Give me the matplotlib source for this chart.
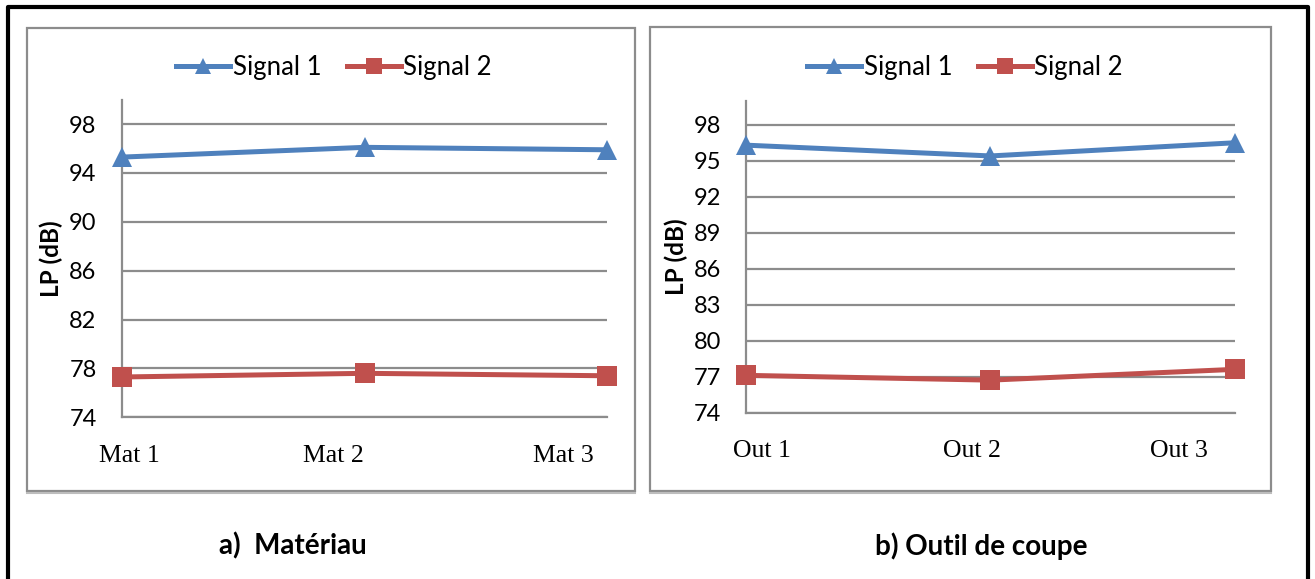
import matplotlib
matplotlib.use("Agg")
import matplotlib.pyplot as plt
from matplotlib.patches import Rectangle
from matplotlib.lines import Line2D
from matplotlib.transforms import ScaledTranslation

# data
mat_labels = ["Mat 1", "Mat 2", "Mat 3"]
mat_signal1 = [95.3, 96.1, 95.9]
mat_signal2 = [77.3, 77.6, 77.4]

out_labels = ["Out 1", "Out 2", "Out 3"]
out_signal1 = [96.3, 95.4, 96.5]
out_signal2 = [77.1, 76.7, 77.6]

mat_yticks = [74, 78, 82, 86, 90, 94, 98]
out_yticks = [74, 77, 80, 83, 86, 89, 92, 95, 98]

BLUE = "#4F81BD"
RED = "#C0504D"
GRID = "#8C8C8C"
W, H = 1315, 579

plt.rcParams["font.family"] = ["Lato", "DejaVu Sans"]

fig = plt.figure(figsize=(W / 100, H / 100), dpi=100)


def px(x0, y0, x1, y1):
    # pixel box (top-left origin) -> figure fraction rect
    return [x0 / W, 1 - y1 / H, (x1 - x0) / W, (y1 - y0) / H]


def panel(rect, cats, s1, s2, yticks, label_dx, legend_x, caption, caption_x):
    x0, y0, x1, y1 = rect
    ax = fig.add_axes(px(x0, y0, x1, y1))
    x = list(range(len(cats)))
    ax.plot(x, s1, color=BLUE, lw=3.6, marker="^", ms=14, mew=0,
            clip_on=False, zorder=4, label="Signal 1")
    ax.plot(x, s2, color=RED, lw=3.6, marker="s", ms=14, mew=0,
            clip_on=False, zorder=4, label="Signal 2")
    ax.set_xlim(0, len(cats) - 1)
    ax.set_ylim(74, 100)
    ax.set_yticks(yticks)
    ax.yaxis.grid(True, color=GRID, lw=1.6)
    ax.set_axisbelow(True)
    for s in ["top", "right"]:
        ax.spines[s].set_visible(False)
    for s in ["left", "bottom"]:
        ax.spines[s].set_color(GRID)
        ax.spines[s].set_linewidth(1.6)
    ax.tick_params(axis="y", length=0, pad=18, labelsize=17, colors="black")
    ax.tick_params(axis="x", length=0, pad=20)
    ax.set_xticks(x)
    ax.set_xticklabels(cats, fontsize=18.5, family="Liberation Serif")
    for lab, dx in zip(ax.get_xticklabels(), label_dx):
        lab.set_transform(lab.get_transform()
                          + ScaledTranslation(dx / 100, 0, fig.dpi_scale_trans))
    ax.set_ylabel("LP (dB)", fontsize=17.5, fontweight="bold", labelpad=4)
    ax.legend(loc="center", bbox_to_anchor=(legend_x / W, 1 - 67 / H),
              bbox_transform=fig.transFigure, ncol=2, frameon=False,
              fontsize=18.5, handlelength=2.1, handletextpad=0.1,
              columnspacing=1.0, markerscale=0.8)
    fig.text(caption_x / W, 1 - 546 / H, caption, fontsize=20,
             fontweight="bold", ha="center", va="center")
    return ax


panel((121.6, 99.7, 607.5, 417.3), mat_labels, mat_signal1, mat_signal2,
      mat_yticks, [8, -31, -44], 334, "a)  Matériau", 293)
panel((745.9, 100.8, 1235, 412.5), out_labels, out_signal1, out_signal2,
      out_yticks, [16, -19, -56], 965, "b) Outil de coupe", 981)

# chart boxes
for bx0, by0, bx1, by1 in [(26.5, 28, 635, 491), (650, 26.5, 1271, 491)]:
    fig.add_artist(Rectangle((bx0 / W, 1 - by1 / H), (bx1 - bx0) / W,
                             (by1 - by0) / H, transform=fig.transFigure,
                             fill=False, ec=GRID, lw=1.6))
    fig.add_artist(Line2D([bx0 / W, bx1 / W], [1 - (by1 + 2) / H] * 2,
                          transform=fig.transFigure, color="#BDBDBD", lw=1.5))

# outer black frame (open at bottom)
fig.add_artist(Line2D([7.5 / W, 7.5 / W, 1308 / W, 1308 / W],
                      [0, 1 - 7 / H, 1 - 7 / H, 0],
                      transform=fig.transFigure, color="black", lw=3))

fig.savefig("out.png", dpi=100)
